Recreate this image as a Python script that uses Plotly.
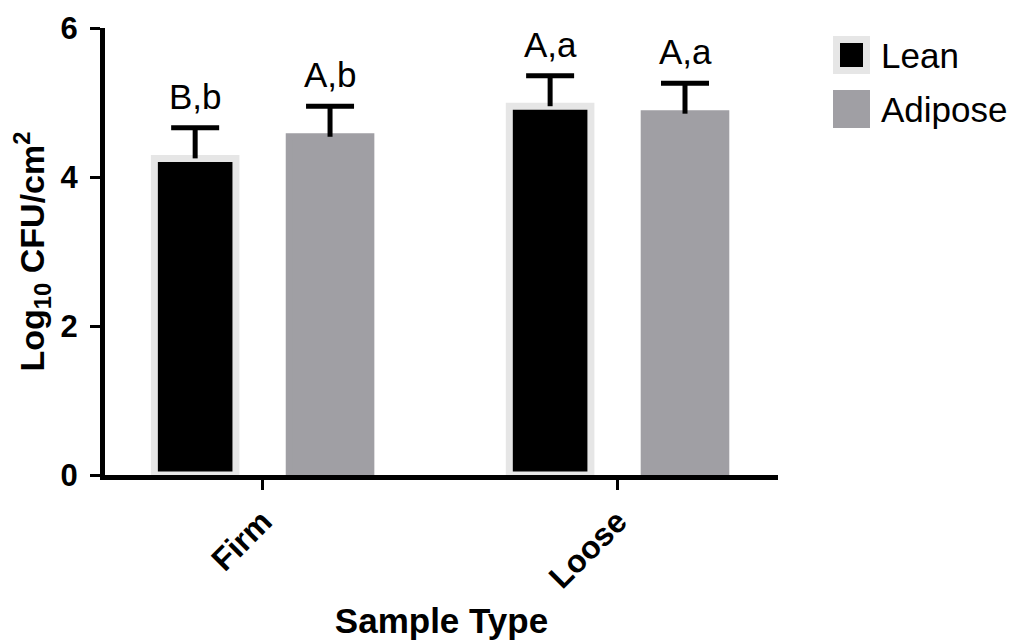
import plotly.graph_objects as go

categories = ["Firm", "Loose"]
lean_values = [4.25, 4.95]
lean_errors = [0.41, 0.41]
adipose_values = [4.54, 4.85]
adipose_errors = [0.41, 0.41]
lean_labels = ["B,b", "A,a"]
adipose_labels = ["A,b", "A,a"]
series_names = ["Lean", "Adipose"]
y_ticks = [0, 2, 4, 6]

FONT = "Arial, Liberation Sans, Helvetica, sans-serif"
LEAN_COLOR = "#000000"
LEAN_LINE = "#e6e6e6"
ADI_COLOR = "#a09fa4"
BARGAP = 0.24
BARGROUPGAP = 0.395

fig = go.Figure()
series = [
    (series_names[0], lean_values, lean_errors, LEAN_COLOR, LEAN_LINE, "lean"),
    (series_names[1], adipose_values, adipose_errors, ADI_COLOR, ADI_COLOR, "adipose"),
]
for name, vals, errs, fill, line, grp in series:
    # bar with error stem (no caps)
    fig.add_trace(go.Bar(
        x=categories, y=vals, name=name, offsetgroup=grp,
        marker=dict(color=fill, line=dict(color=line, width=7)),
        error_y=dict(type="data", array=errs, arrayminus=[0] * len(errs),
                     symmetric=False, color="black", thickness=5, width=0),
        showlegend=False,
    ))
for name, vals, errs, fill, line, grp in series:
    # cap at the top of the upper error
    fig.add_trace(go.Scatter(
        x=categories, y=[v + e for v, e in zip(vals, errs)], name=name + " SEM",
        offsetgroup=grp, mode="markers", marker=dict(size=1, opacity=0),
        error_y=dict(type="data", array=[0] * len(errs), color="black", thickness=5, width=24),
        showlegend=False, hoverinfo="skip",
    ))

# significance letters above error bars
off = (1 - BARGAP) / 4
for i, cat in enumerate(categories):
    for vals, errs, labs, sgn in ((lean_values, lean_errors, lean_labels, -1),
                                  (adipose_values, adipose_errors, adipose_labels, 1)):
        fig.add_annotation(x=i + sgn * off, y=vals[i] + errs[i], text=labs[i],
                           xref="x", yref="y", showarrow=False, yanchor="bottom",
                           yshift=10, font=dict(family=FONT, size=35, color="black"))

# legend drawn as shapes + text
legend_items = [(series_names[0], LEAN_COLOR, LEAN_LINE, 0), (series_names[1], ADI_COLOR, ADI_COLOR, 1)]
for name, fill, line, k in legend_items:
    top = -11.5 - k * 54
    fig.add_shape(type="rect", xref="paper", yref="paper",
                  xsizemode="pixel", ysizemode="pixel", xanchor=1, yanchor=1,
                  x0=58.5, x1=88.5, y0=top, y1=top - 31,
                  fillcolor=fill, line=dict(color=line, width=7), layer="above")
    fig.add_annotation(xref="paper", yref="paper", x=1, y=1, xanchor="left", yanchor="middle",
                       xshift=101, yshift=top - 15.5, text=name, showarrow=False,
                       font=dict(family=FONT, size=35, color="black"))

fig.update_layout(
    width=1029, height=642,
    margin=dict(l=97, r=259, t=20, b=175, autoexpand=False),
    paper_bgcolor="white", plot_bgcolor="white",
    barmode="group", bargap=BARGAP, bargroupgap=BARGROUPGAP,
    scattermode="group", scattergap=BARGAP,
    font=dict(family=FONT, color="black"),
    showlegend=False,
)
fig.update_xaxes(
    range=[-0.444, 1.452], showgrid=False, zeroline=False, automargin=False,
    showline=True, linecolor="black", linewidth=5,
    ticks="outside", ticklen=10, tickwidth=3, tickcolor="black",
    tickangle=-45, tickfont=dict(family=FONT, size=32, color="black", weight="bold"),
    title=dict(text="<b>Sample Type</b>", font=dict(family=FONT, size=35, color="black"), standoff=16),
)
fig.update_yaxes(
    range=[0, 6], tickvals=y_ticks, showgrid=False, zeroline=False, automargin=False,
    showline=True, linecolor="black", linewidth=5,
    ticks="outside", ticklen=10, tickwidth=3, tickcolor="black",
    ticklabelstandoff=6,
    tickfont=dict(family=FONT, size=31, color="black", weight="bold"),
    title=dict(text="<b>Log<sub>10</sub> CFU/cm<sup>2</sup></b>", font=dict(family=FONT, size=34, color="black"), standoff=14),
)

fig.write_html("out.html")
